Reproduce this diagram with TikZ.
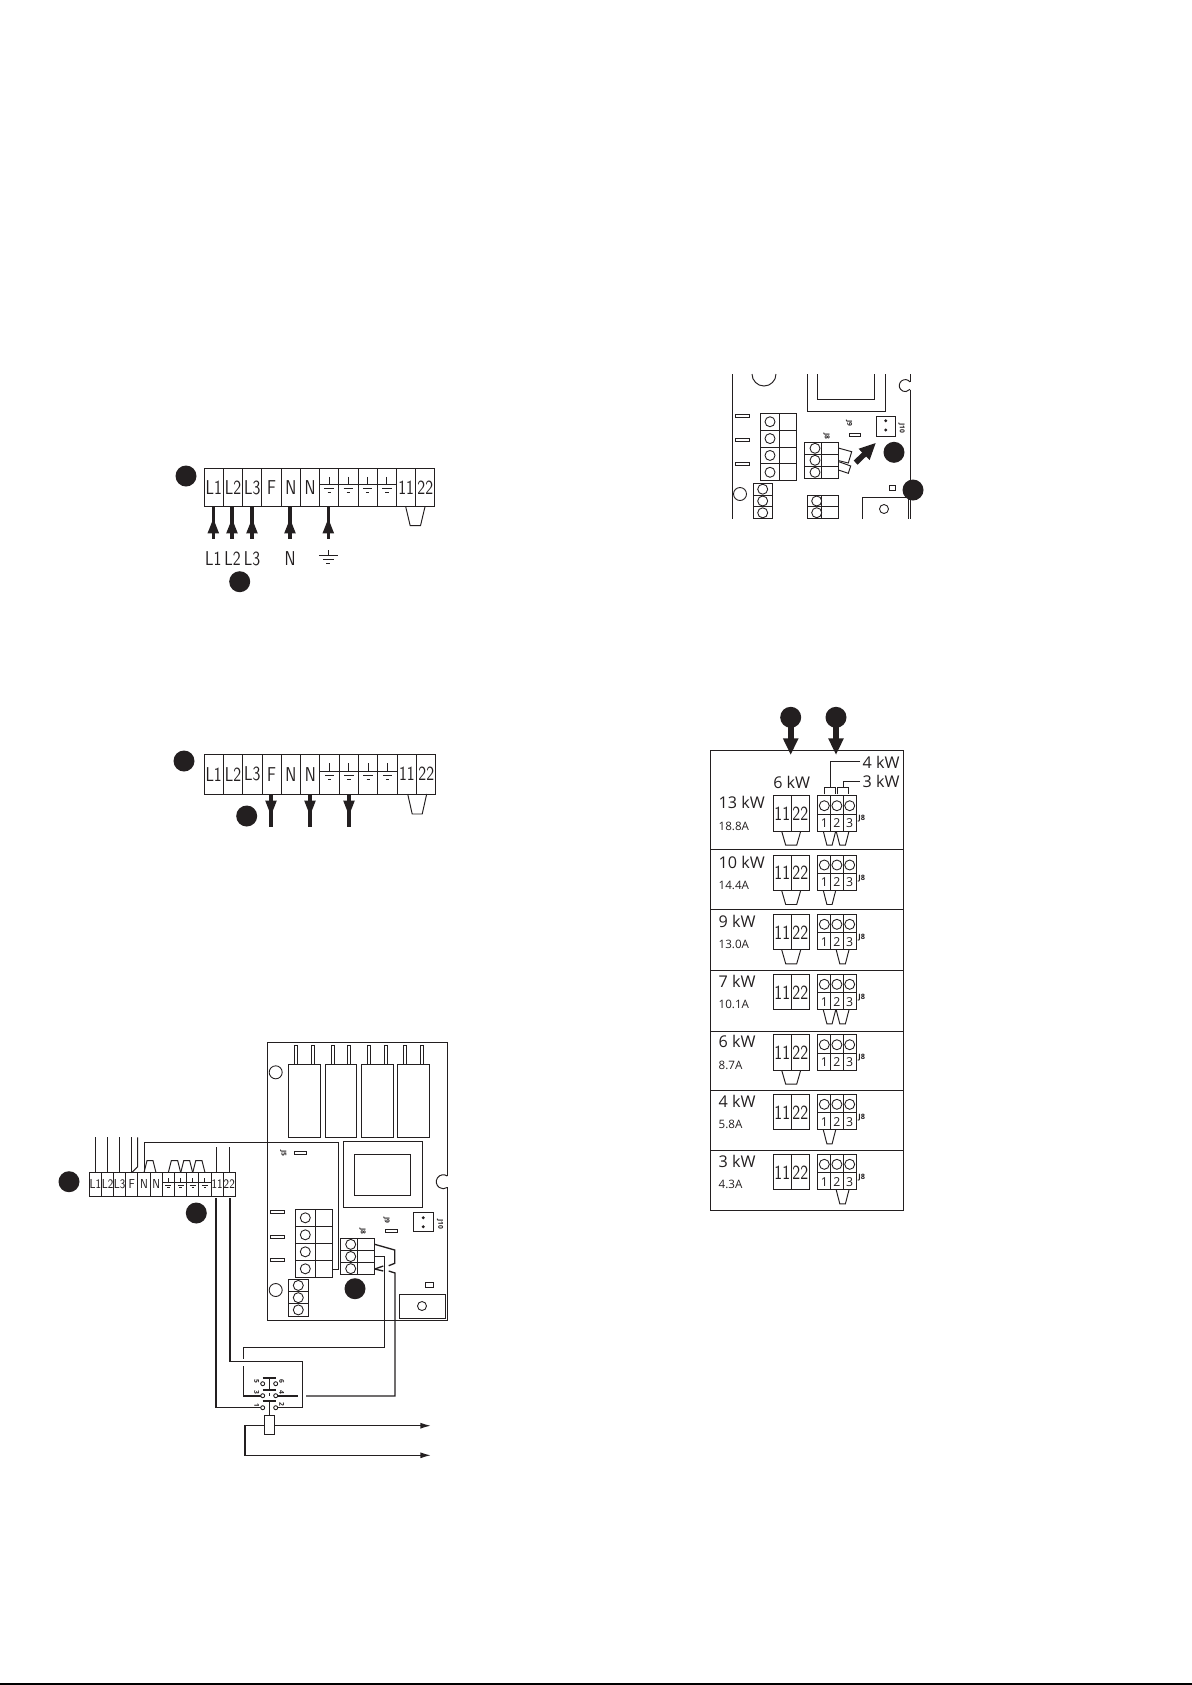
\documentclass[tikz,border=0pt]{standalone}
\usepackage{fontspec}
\usepackage{graphicx}
\usepackage[HTML]{xcolor}
\setmainfont{Open Sans}
\usepackage{tikz}
\usetikzlibrary{arrows.meta}

\definecolor{ink}{HTML}{231F20}

\tikzset{
  thinline/.style={draw=ink, line width=0.55pt},
  wire/.style={draw=ink, line width=0.75pt},
  dotmark/.style={fill=ink},
  hole/.style={draw=ink, line width=0.5pt, fill=white},
  leadline/.style={draw=ink, line width=2pt},
  leadtip/.style={-{Triangle[length=8.8pt,width=6pt]}},
  fattip/.style={draw=ink, line width=3.2pt, -{Triangle[length=9.5pt,width=8.2pt]}},
  termtext/.style={text=ink, inner sep=0pt, font=\sffamily},
  tinytext/.style={text=ink, inner sep=0pt, rotate=-90, font=\fontsize{3.8}{4}\selectfont\bfseries},
  tabletext/.style={text=ink, inner sep=0pt, anchor=west, font=\fontsize{9.2}{10}\selectfont},
  smalltext/.style={text=ink, inner sep=0pt, anchor=west, font=\fontsize{6.6}{7}\selectfont},
  digittext/.style={text=ink, inner sep=0pt, font=\fontsize{7}{7}\selectfont},
  outtip/.style={-{Latex[length=6pt,width=3.4pt]}},
}

% size, text
\newcommand{\termlab}[2]{\fontsize{#1}{#1}\selectfont\scalebox{.8}[1]{#2}}

% x, y top, half width, height of the cell
\newcommand{\groundmark}[4]{%
  \pgfmathsetmacro{\gbar}{#2+.42*#4}
  \pgfmathsetmacro{\gstem}{#2+.23*#4}
  \pgfmathsetmacro{\gmid}{#2+.53*#4}
  \pgfmathsetmacro{\glow}{#2+.63*#4}
  \draw[thinline] (#1,\gstem) -- (#1,\gbar);
  \draw[thinline] (#1-#3,\gbar) -- (#1+#3,\gbar);
  \draw[thinline] (#1-#3*.5,\gmid) -- (#1+#3*.5,\gmid);
  \draw[thinline] (#1-#3*.18,\glow) -- (#1+#3*.18,\glow);
}

% name, x left, y top, cell width, cell height, text size
\newcommand{\stripcells}[6]{%
  \foreach \lab [count=\i from 0] in {L1,L2,L3,F,N,N,,,,,11,22} {
    \pgfmathsetmacro{\cx}{#2+\i*#4}
    \draw[thinline] (\cx,#3) rectangle (\cx+#4,#3+#5);
    \node[termtext] (#1\i) at (\cx+#4/2,#3+#5*.5) {\termlab{#6}{\lab}};
  }
  \foreach \i in {6,...,9} {
    \groundmark{#2+\i*#4+#4/2}{#3}{#4/2}{#5}
  }
}

% x left, y, x right, inset, rise or drop
\newcommand{\linkpiece}[5]{%
  \draw[thinline] (#1,#2) -- (#1+#4,#2+#5) -- (#3-#4,#2+#5) -- (#3,#2);
}

% x left, y top, rows, row height, width, x of split, x of holes, hole radius
\newcommand{\blockrows}[8]{%
  \draw[thinline] (#1,#2) rectangle (#1+#5,#2+#3*#4);
  \draw[thinline] (#6,#2) -- (#6,#2+#3*#4);
  \foreach \r in {1,...,#3} {
    \draw[thinline] (#1,#2+\r*#4-#4) -- (#1+#5,#2+\r*#4-#4);
    \draw[hole] (#7,#2+\r*#4-#4/2) circle (#8);
  }
}

% y top, row number
\newcommand{\plugpair}[2]{%
  \draw[thinline] (773.3,#1) rectangle (809.3,#1+35.5);
  \draw[thinline] (791.3,#1) -- (791.3,#1+35.5);
  \node[termtext] (elevenR#2) at (782.3,#1+18) {\termlab{11.4}{11}};
  \node[termtext] (twotwoR#2) at (800.3,#1+18) {\termlab{11.4}{22}};
  \draw[thinline] (817.7,#1) rectangle (856,#1+35.5);
  \draw[thinline] (817.7,#1+18.3) -- (856,#1+18.3);
  \foreach \c/\t [count=\k] in {824.3/1,836.9/2,849.7/3} {
    \draw[hole] (\c,#1+10) circle (5);
    \node[digittext] (jpinR#2n\k) at (\c,#1+27.5) {\t};
  }
  \draw[thinline] (830.6,#1) -- (830.6,#1+35.5);
  \draw[thinline] (843.2,#1) -- (843.2,#1+35.5);
  \node[text=ink, inner sep=0pt, font=\fontsize{4.2}{4}\selectfont\bfseries] (jlabR#2) at (861.7,#1+23.3) {J8};
}

% y top, row number, power, current, links 11-22, 1-2, 2-3
\newcommand{\loadrow}[7]{%
  \node[tabletext] (powerR#2) at (718.3,#1+7) {#3};
  \node[smalltext] (currentR#2) at (718.3,#1+30.5) {#4};
  \plugpair{#1}{#2}
  \ifnum#5=1 \linkpiece{781.7}{#1+35.5}{800.7}{4}{14} \fi
  \ifnum#6=1 \linkpiece{823.3}{#1+35.5}{835.7}{3.6}{14} \fi
  \ifnum#7=1 \linkpiece{836.2}{#1+35.5}{849}{3.6}{14} \fi
}

\begin{document}
\begin{tikzpicture}[x=0.02cm, y=-0.02cm]
\useasboundingbox (0,0) rectangle (1192,1685);

% first terminal strip
\stripcells{sa}{204.3}{468}{19.22}{38.7}{11.4}
\linkpiece{405.7}{506.7}{425}{4.5}{19}
\fill[dotmark] (186,476) circle (10.5);
\fill[dotmark] (239.7,581.7) circle (10.5);
\foreach \x in {213.3,232,252,290,328.3} {
  \draw[leadline] (\x,506.7) -- (\x,539);
  \draw[leadline, leadtip] (\x,534) -- (\x,518);
}
\node[termtext] (la1) at (213.3,559) {\termlab{11.4}{L1}};
\node[termtext] (la2) at (232.5,559) {\termlab{11.4}{L2}};
\node[termtext] (la3) at (252,559) {\termlab{11.4}{L3}};
\node[termtext] (la4) at (290,559) {\termlab{11.4}{N}};
\draw[thinline] (328.3,550) -- (328.3,555);
\draw[thinline] (318.8,555) -- (337.8,555);
\draw[thinline] (322.8,559.5) -- (333.8,559.5);
\draw[thinline] (326.3,563.5) -- (330.3,563.5);

% second terminal strip
\stripcells{sb}{204}{754.3}{19.33}{39.7}{11.4}
\linkpiece{407.7}{794}{426.7}{4.5}{20}
\fill[dotmark] (184,761) circle (10.5);
\fill[dotmark] (246.7,816) circle (10.5);
\foreach \x in {271,310,349} {
  \draw[leadline] (\x,794) -- (\x,826.7);
  \draw[leadline, leadtip] (\x,800.7) -- (\x,816);
}

% board detail, upper right
\draw[thinline] (732.7,374) -- (732.7,519);
\draw[thinline] (776,374) arc (0:180:12);
\draw[thinline] (807,374) -- (807,411) -- (885.7,411) -- (885.7,374);
\draw[thinline] (817.7,374) -- (817.7,399) -- (874,399) -- (874,374);
\draw[thinline] (910,374) -- (910,381.9);
\draw[thinline] (910,381.9) arc (-38:-322:6);
\draw[thinline] (910,389.5) -- (910,519);
\foreach \y in {416,440,464} {
  \draw[thinline] (735.7,\y-1.5) rectangle (749,\y+1.5);
}
\blockrows{760.7}{413.3}{4}{16.85}{35.6}{779.3}{770}{5}
\blockrows{804.3}{442.3}{3}{12}{34}{821.7}{815}{5}
\blockrows{753.3}{483.3}{3}{11.8}{19}{772.3}{762.7}{5}
\draw[thinline] (807.3,495) rectangle (838.3,518.6);
\draw[thinline] (807.3,506.8) -- (838.3,506.8);
\draw[thinline] (821,495) -- (821,518.6);
\draw[hole] (816.7,501) circle (5);
\draw[hole] (816.7,512.7) circle (5);
\draw[hole] (740,494) circle (6.5);
\draw[thinline] (838.3,448) -- (851.7,451.7) -- (848.3,463) -- (838.3,460.5);
\draw[thinline] (838.3,461.5) -- (850.7,466) -- (848.3,473.3) -- (838.3,470);
\draw[fattip] (855.7,462.7) -- (876,442.7);
\node[tinytext] (jeightA) at (826.7,436.7) {J8};
\node[tinytext] (jnineA) at (849,423) {J9};
\node[tinytext] (jtenA) at (901.7,428) {J10};
\draw[thinline] (849,433.5) rectangle (860.7,436.5);
\draw[thinline] (876,416) rectangle (895.7,436);
\draw[hole] (885.7,420.7) circle (1);
\draw[hole] (885.7,430) circle (1);
\fill[dotmark] (894,452.3) circle (10.5);
\draw[thinline] (889,485.3) rectangle (895.7,490.7);
\draw[thinline] (862.7,519) -- (862.7,497.3) -- (908,497.3) -- (908,519);
\draw[hole] (884,509) circle (4.5);
\fill[dotmark] (913,490) circle (10.5);

% load table
\draw[thinline] (710.7,750.7) rectangle (903.3,1210.3);
\foreach \y in {849.3,909.3,970.7,1031.3,1090.7,1150} {
  \draw[thinline] (710.7,\y) -- (903.3,\y);
}
\foreach \x in {790.7,836} {
  \fill[dotmark] (\x,717.3) circle (10.5);
  \draw[fattip] (\x,722) -- (\x,755);
}
\node[text=ink, inner sep=0pt, font=\fontsize{9.2}{10}\selectfont] (sixhead) at (791.7,782.7) {6 kW};
\node[tabletext] (fourhead) at (862.3,762) {4 kW};
\node[tabletext] (threehead) at (862.3,781.7) {3 kW};
\draw[thinline] (860,761.7) -- (830,761.7) -- (830,787.7);
\draw[thinline] (860,781.7) -- (843.3,781.7) -- (843.3,787.7);
\draw[thinline] (824.3,794.3) -- (824.3,787.7) -- (835,787.7) -- (835,794.3);
\draw[thinline] (837.3,794.3) -- (837.3,787.7) -- (848.7,787.7) -- (848.7,794.3);
\loadrow{795.7}{1}{13 kW}{18.8A}{1}{1}{1}
\loadrow{855}{2}{10 kW}{14.4A}{1}{1}{0}
\loadrow{914.3}{3}{9 kW}{13.0A}{1}{0}{1}
\loadrow{974.3}{4}{7 kW}{10.1A}{0}{1}{1}
\loadrow{1034.7}{5}{6 kW}{8.7A}{1}{0}{0}
\loadrow{1094.3}{6}{4 kW}{5.8A}{0}{1}{0}
\loadrow{1154.3}{7}{3 kW}{4.3A}{0}{0}{1}

% main board, lower left
\draw[thinline] (447.3,1176) -- (447.3,1042.7) -- (267.7,1042.7) -- (267.7,1320.3) -- (447.3,1320.3) -- (447.3,1187.4);
\draw[thinline] (447.3,1176) arc (-55:-305:7);
\foreach \xa/\xb in {288.3/320.7,325.3/356.7,361.3/393.3,397.3/429.3} {
  \draw[thinline] (\xa,1064.3) rectangle (\xb,1137.3);
  \draw[thinline] (\xa+6,1045.3) rectangle (\xa+9,1064.3);
  \draw[thinline] (\xb-9,1045.3) rectangle (\xb-6,1064.3);
}
\draw[hole] (275.7,1072.3) circle (6.5);
\draw[hole] (275.7,1290) circle (6.5);
\draw[thinline] (343.3,1141.7) rectangle (422.3,1207.3);
\draw[thinline] (354.3,1154.3) rectangle (410.7,1195.3);
\node[tinytext] (jfiveB) at (283.3,1153) {J5};
\draw[thinline] (294.3,1151.5) rectangle (306.7,1154.5);
\foreach \y in {1211.7,1236.7,1260.3} {
  \draw[thinline] (270.7,\y-1.5) rectangle (284.3,\y+1.5);
}
\blockrows{295.7}{1209.3}{4}{17}{37}{315.7}{305.3}{5}
\blockrows{340.7}{1238.3}{3}{12.13}{34}{357.3}{350.7}{5}
\blockrows{288.7}{1279.3}{3}{12.23}{20}{308.7}{298.3}{5}
\node[tinytext] (jeightB) at (362.7,1231.7) {J8};
\node[tinytext] (jnineB) at (386.7,1220.7) {J9};
\node[tinytext] (jtenB) at (440,1224.3) {J10};
\draw[thinline] (385.7,1229.8) rectangle (397.7,1232.8);
\draw[thinline] (413.3,1212.3) rectangle (433.7,1231.7);
\draw[hole] (423.3,1217.7) circle (1);
\draw[hole] (423.3,1226.7) circle (1);
\fill[dotmark] (355,1288.7) circle (10.5);
\draw[thinline] (425.7,1282.7) rectangle (433.3,1287.3);
\draw[thinline] (399.3,1294.3) rectangle (445.7,1318.7);
\draw[hole] (422,1306) circle (4.5);

% third terminal strip with its wires
\stripcells{sc}{89.3}{1172.7}{12.17}{23.3}{7.4}
\fill[dotmark] (69,1181.7) circle (10.5);
\fill[dotmark] (196.3,1213) circle (10.5);
\foreach \x in {95.3,107.3,119.3,131.7} {
  \draw[thinline] (\x,1137.3) -- (\x,1172.7);
}
\draw[thinline] (137.7,1137.3) -- (137.7,1166.7) -- (131.7,1172.7);
\draw[thinline] (144,1172.7) -- (144,1142.3) -- (338.3,1142.3) -- (338.3,1269) -- (332.7,1269);
\linkpiece{144}{1172.7}{156}{3}{-12}
\linkpiece{168.3}{1172.7}{180.7}{3}{-12}
\linkpiece{180.7}{1172.7}{192.7}{3}{-12}
\linkpiece{192.7}{1172.7}{205}{3}{-12}
\draw[thinline] (216.3,1147.3) -- (216.3,1172.7);
\draw[thinline] (229.3,1147.3) -- (229.3,1172.7);

% wires down to the switch
\draw[wire] (216,1198) -- (216,1407.7) -- (260.7,1407.7);
\draw[wire] (230,1198) -- (230,1361.7) -- (302.3,1361.7) -- (302.3,1407.7) -- (277.7,1407.7);
\draw[wire] (374.7,1256.7) -- (384.3,1256.7) -- (384.3,1347.7) -- (243.7,1347.7) -- (243.7,1359.3);
\draw[wire] (243.7,1366) -- (243.7,1396) -- (260.7,1396);
\draw[wire] (277.7,1396) -- (298,1396);
\draw[wire] (306,1396) -- (395,1396) -- (395,1273) -- (388.7,1271);
\draw[wire] (374.7,1244.3) -- (394.7,1250) -- (394.7,1263.3) -- (388.7,1265.7);
\draw[wire] (374.7,1269) -- (383.3,1266);
\draw[wire] (374.7,1269) -- (383.3,1271);

% switch
\foreach \y in {1383.7,1395.7,1407.7} {
  \draw[hole] (262.7,\y) circle (2);
  \draw[hole] (275.7,\y) circle (2);
}
\foreach \y in {1377.7,1390,1401.3} {
  \draw[draw=ink, line width=1pt] (262.7,\y) -- (276,\y);
}
\draw[thinline] (269.3,1377.7) -- (269.3,1390);
\draw[thinline] (269.3,1392.5) -- (269.3,1396);
\draw[thinline] (269.3,1401.3) -- (269.3,1415.7);
\node[tinytext] (swa) at (256.7,1405) {1};
\node[tinytext] (swb) at (281.7,1404) {2};
\node[tinytext] (swc) at (256.7,1392.3) {3};
\node[tinytext] (swd) at (281.7,1392.3) {4};
\node[tinytext] (swe) at (256.7,1381) {5};
\node[tinytext] (swf) at (281.7,1381) {6};
\draw[thinline] (264.3,1415.7) rectangle (274.3,1434.7);
\draw[wire, outtip] (274.3,1425.7) -- (431,1425.7);
\draw[wire, outtip] (264.3,1425.7) -- (245,1425.7) -- (245,1455.3) -- (431,1455.3);

% page edge
\draw[draw=black, line width=1pt] (0,1684) -- (1192,1684);
\end{tikzpicture}
\end{document}
